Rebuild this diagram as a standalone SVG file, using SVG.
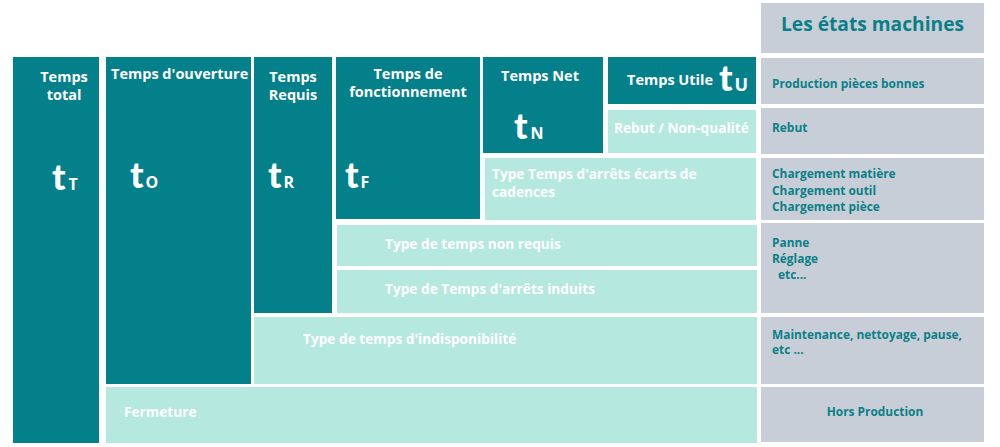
<svg xmlns="http://www.w3.org/2000/svg" width="1000" height="447" viewBox="0 0 1000 447">
<style>
.dark{fill:#04808a}
.mint{fill:#b5e8de}
.gray{fill:#c8ced7}
text{font-family:"Open Sans",Lato,"DejaVu Sans",sans-serif;font-weight:bold}
.w{fill:#ffffff;font-size:14.5px}
.wm{fill:#ffffff;font-size:13.7px}
.g{fill:#0b7f87;font-size:11.9px}
.big{fill:#ffffff;font-size:36px;font-family:Lato,sans-serif;font-weight:900}
.sub{fill:#ffffff;font-size:16px;font-family:"Open Sans",sans-serif;font-weight:bold}
.c{text-anchor:middle}
</style>
<rect width="1000" height="447" fill="#ffffff"/>
<g id="temps-total">
<rect class="dark" x="13" y="57" width="86" height="386"/>
<text class="w c" x="64" y="82">Temps</text>
<text class="w c" x="64" y="100">total</text>
<text class="big" x="52" y="190">t<tspan class="sub" dx="3">T</tspan></text>
</g>
<g id="temps-ouverture">
<rect class="dark" x="106" y="57" width="145" height="327"/>
<text class="w" x="111" y="79">Temps d'ouverture</text>
<text class="big" x="130" y="188">t<tspan class="sub" dx="2">O</tspan></text>
</g>
<g id="temps-requis">
<rect class="dark" x="254" y="57" width="78" height="256"/>
<text class="w c" x="293" y="82">Temps</text>
<text class="w c" x="293" y="100">Requis</text>
<text class="big" x="268" y="188">t<tspan class="sub" dx="2">R</tspan></text>
</g>
<g id="temps-fonctionnement">
<rect class="dark" x="336" y="57" width="144" height="162"/>
<text class="w c" x="408" y="79">Temps de</text>
<text class="w c" x="408" y="97">fonctionnement</text>
<text class="big" x="345" y="188">t<tspan class="sub" dx="2">F</tspan></text>
</g>
<g id="temps-net">
<rect class="dark" x="483" y="57" width="120" height="96"/>
<text class="w c" x="540" y="81">Temps Net</text>
<text class="big" x="514" y="139">t<tspan class="sub" dx="3">N</tspan></text>
</g>
<g id="temps-utile">
<rect class="dark" x="608" y="57" width="148" height="47"/>
<text class="w" x="627" y="85">Temps Utile</text>
<text class="big" x="719" y="91">t<tspan class="sub" dx="2" style="font-size:18px">U</tspan></text>
</g>
<g id="rebut-non-qualite">
<rect class="mint" x="608" y="110" width="148" height="43"/>
<text class="wm" x="614" y="133">Rebut / Non-qualité</text>
</g>
<g id="ecarts-cadences">
<rect class="mint" x="485" y="158" width="271" height="62"/>
<text class="wm" x="492" y="179">Type Temps d'arrêts écarts de</text>
<text class="wm" x="492" y="197">cadences</text>
</g>
<g id="temps-non-requis">
<rect class="mint" x="337" y="225" width="420" height="41"/>
<text class="wm" x="385" y="249">Type de temps non requis</text>
</g>
<g id="arrets-induits">
<rect class="mint" x="337" y="270" width="420" height="43"/>
<text class="wm" x="385" y="294">Type de Temps d'arrêts induits</text>
</g>
<g id="indisponibilite">
<rect class="mint" x="254" y="317" width="503" height="67"/>
<text class="wm" x="303" y="344">Type de temps d'indisponibilité</text>
</g>
<g id="fermeture">
<rect class="mint" x="106" y="387" width="651" height="56"/>
<text class="wm" x="124" y="417">Fermeture</text>
</g>
<g id="etats-titre">
<rect class="gray" x="761" y="3" width="223" height="50"/>
<text x="872.5" y="31" class="c" style="fill:#0b7f87;font-size:19.2px">Les états machines</text>
</g>
<g id="etat-production">
<rect class="gray" x="761" y="58" width="223" height="46"/>
<text class="g" x="772" y="88">Production pièces bonnes</text>
</g>
<g id="etat-rebut">
<rect class="gray" x="761" y="108" width="223" height="46"/>
<text class="g" x="772" y="132">Rebut</text>
</g>
<g id="etat-chargement">
<rect class="gray" x="761" y="158" width="223" height="62"/>
<text class="g" x="772" y="178">Chargement matière</text>
<text class="g" x="772" y="195">Chargement outil</text>
<text class="g" x="772" y="211">Chargement pièce</text>
</g>
<g id="etat-panne">
<rect class="gray" x="761" y="223" width="223" height="90"/>
<text class="g" x="772" y="247">Panne</text>
<text class="g" x="772" y="263">Réglage</text>
<text class="g" x="778" y="279">etc...</text>
</g>
<g id="etat-maintenance">
<rect class="gray" x="761" y="317" width="223" height="67"/>
<text class="g" x="772" y="339">Maintenance, nettoyage, pause,</text>
<text class="g" x="772" y="354">etc ...</text>
</g>
<g id="etat-hors-production">
<rect class="gray" x="761" y="387" width="223" height="55"/>
<text class="g c" x="875" y="416">Hors Production</text>
</g>
<g id="connectors"/>
</svg>
